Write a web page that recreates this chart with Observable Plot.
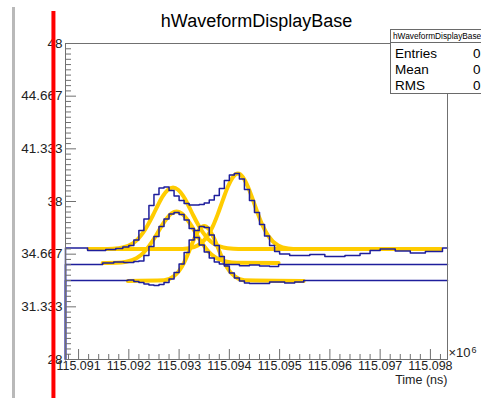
<!DOCTYPE html>
<html>
<head>
<meta charset="utf-8">
<script src="https://cdn.jsdelivr.net/npm/d3@7"></script>
<script src="https://cdn.jsdelivr.net/npm/@observablehq/plot@0.6"></script>
<style>
  html, body { margin: 0; padding: 0; background: #fff; }
  #canvas { position: relative; width: 481px; height: 398px; overflow: hidden;
            font-family: "Liberation Sans", Arial, Helvetica, sans-serif; color: #000; }
  #canvas svg { position: absolute; left: 0; top: 0; }
  #edge { position: absolute; left: 12px; top: 7px; width: 3px; height: 391px; background: #b9b9b9; }
  #stats { position: absolute; left: 390px; top: 29px; width: 110px; height: 65px;
           background: #fff; border: 1px solid #6a6a6a; box-sizing: border-box; }
  #stats .head { position: absolute; left: 2px; top: 1px; font-size: 8.3px; line-height: 10px; white-space: nowrap; }
  #stats .rule { position: absolute; left: 0; right: 0; top: 12px; border-top: 1px solid #6a6a6a; }
  #stats .row { position: absolute; left: 4px; font-size: 13.5px; line-height: 15px; white-space: nowrap; }
  #stats .val { position: absolute; left: 82px; font-size: 13.5px; line-height: 15px; }
</style>
</head>
<body>
<div id="canvas">
  <div id="edge"></div>
</div>
<script>
// Time axis in ns; sample times below are offsets from T0.
const T0 = 115091000;
const xMin = 115090740, xMax = 115098340;
const yMin = 28, yMax = 48;

// Axis ticks
const xTickValues = [115091000, 115092000, 115093000, 115094000, 115095000, 115096000, 115097000, 115098000];
const xTickLabels = ["115.091", "115.092", "115.093", "115.094", "115.095", "115.096", "115.097", "115.098"];
const yTickValues = [28, 31.3333, 34.6667, 38, 41.3333, 44.6667, 48];
const yTickLabels = ["28", "31.333", "34.667", "38", "41.333", "44.667", "48"];

// Waveform A (two pulses): bin start times (ns from T0) and levels
const aStart = [-260, 180, 540, 740, 880,
  1000, 1100, 1200, 1300, 1400, 1500, 1600, 1700, 1800, 1900,
  2000, 2100, 2200, 2300, 2400, 2500, 2600, 2700, 2800, 2900,
  3000, 3100, 3200, 3300, 3400, 3500, 3600, 3700, 3800, 3900,
  4000, 4200, 4600, 4900, 5300, 5600, 5800, 6000, 6300, 6600, 6900, 7240];
const aLevel = [35.05, 34.90, 34.96, 35.03, 35.12,
  35.22, 35.56, 36.16, 36.89, 37.75, 38.44, 38.85, 38.92, 38.70, 38.35,
  38.06, 37.87, 37.78, 37.78, 37.81, 37.91, 38.09, 38.38, 38.82, 39.33,
  39.68, 39.77, 39.42, 38.76, 38.06, 37.30, 36.54, 35.82, 35.22, 34.84,
  34.68, 34.58, 34.65, 34.52, 34.58, 34.71, 34.90, 35.00, 34.87, 34.74, 34.84, 35.05];

// Waveform B
const bStart = [-260, 480, 700, 900, 1100,
  1200, 1300, 1400, 1500, 1600, 1700, 1800, 1900, 2000, 2100,
  2200, 2300, 2400, 2500, 2600, 2700, 2800,
  2900, 3200, 3400, 3600, 3800, 3980];
const bLevel = [34.01, 34.11, 34.17, 34.14, 34.20,
  34.23, 34.58, 35.15, 35.78, 36.42, 36.89, 37.21, 37.30, 37.18, 36.83,
  36.29, 35.72, 35.25, 34.80, 34.42, 34.17, 34.04,
  34.01, 33.94, 33.98, 33.92, 33.89, 34.01];

// Waveform C
const cStart = [-260, 980, 1100,
  1200, 1300, 1400, 1500, 1600, 1700, 1800, 1900, 2000, 2100,
  2200, 2300, 2400, 2500, 2600, 2700, 2800, 2900, 3000, 3100, 3200, 3300,
  3400, 3800, 4100, 4300, 4480];
const cLevel = [33.00, 33.03, 32.94,
  32.87, 32.78, 32.72, 32.68, 32.75, 32.87, 33.09, 33.51, 34.04, 34.77,
  35.56, 36.16, 36.42, 36.35, 35.88, 35.22, 34.52, 33.92, 33.47, 33.16, 32.97, 32.84,
  32.81, 32.91, 32.84, 32.91, 33.00];

// Pulse fits (sampled along each fitted curve)
const fitA1Time = [200, 480, 680, 880, 1080, 1180, 1280, 1380, 1480, 1580, 1680, 1780, 1880,
  1980, 2080, 2180, 2280, 2380, 2480, 2580, 2680, 2880, 3080, 3280, 7200];
const fitA1Value = [34.99, 34.99, 35.01, 35.09, 35.35, 35.62, 36.01, 36.53, 37.13, 37.78, 38.35, 38.74, 38.89,
  38.74, 38.35, 37.78, 37.13, 36.53, 36.01, 35.62, 35.35, 35.09, 35.01, 34.99, 34.99];

const fitA2Time = [200, 1970, 2170, 2370, 2570, 2670, 2770, 2870, 2970, 3070, 3170,
  3270, 3370, 3470, 3570, 3670, 3770, 3970, 4170, 4370, 7200];
const fitA2Value = [34.99, 34.99, 35.03, 35.22, 35.84, 36.42, 37.20, 38.09, 38.93, 39.54, 39.77,
  39.54, 38.93, 38.09, 37.20, 36.42, 35.84, 35.22, 35.03, 34.99, 34.99];

const fitBTime = [480, 750, 950, 1150, 1250, 1350, 1450, 1550, 1650, 1750, 1850, 1950,
  2050, 2150, 2250, 2350, 2450, 2550, 2650, 2750, 2950, 3150, 3980];
const fitBValue = [34.11, 34.12, 34.19, 34.41, 34.63, 34.96, 35.39, 35.90, 36.44, 36.91, 37.25, 37.37,
  37.25, 36.91, 36.44, 35.90, 35.39, 34.96, 34.63, 34.41, 34.19, 34.12, 34.11];

const fitCTime = [980, 1700, 1900, 2000, 2100, 2200, 2300, 2400, 2500,
  2600, 2700, 2800, 2900, 3000, 3100, 3300, 4480];
const fitCValue = [32.97, 33.01, 33.28, 33.61, 34.14, 34.86, 35.63, 36.22, 36.45,
  36.22, 35.63, 34.86, 34.14, 33.61, 33.28, 33.01, 32.97];

// Time marker drawn left of the window
const markerTime = 115090500;

// Histogram outline: rises from the axis floor at the left edge and steps through the bins
// up to the right edge of the frame.
function outline(starts, levels, name) {
  const pts = [{t: xMin, v: yMin, s: name}];
  starts.forEach((s, i) => pts.push({t: Math.max(xMin, T0 + s), v: levels[i], s: name}));
  pts.push({t: xMax, v: levels[levels.length - 1], s: name});
  return pts;
}
function curvePts(times, values, name) {
  return times.map((t, i) => ({t: T0 + t, v: values[i], s: name}));
}

const hists = [
  ...outline(aStart, aLevel, "A"),
  ...outline(bStart, bLevel, "B"),
  ...outline(cStart, cLevel, "C")
];
const fits = [
  ...curvePts(fitA1Time, fitA1Value, "A1"),
  ...curvePts(fitA2Time, fitA2Value, "A2"),
  ...curvePts(fitBTime, fitBValue, "B"),
  ...curvePts(fitCTime, fitCValue, "C")
];

const xMinor = d3.range(115090800, xMax, 200).filter(t => t % 1000 !== 0);
const yMinor = d3.range(0, 60).map(i => yMin + i / 3).filter((_, i) => i % 10 !== 0);

const W = 481, H = 398, mL = 65, mR = 34, mT = 43, mB = 39;
const frameW = W - mL - mR, frameH = H - mT - mB;
const axisColor = "#707070";
const font = "'Liberation Sans', Arial, Helvetica, sans-serif";

const chart = Plot.plot({
  width: W, height: H,
  marginLeft: mL, marginRight: mR, marginTop: mT, marginBottom: mB,
  x: {domain: [xMin, xMax], axis: null},
  y: {domain: [yMin, yMax], axis: null},
  style: {fontFamily: font, background: "transparent", overflow: "visible"},
  marks: [
    Plot.line(fits, {x: "t", y: "v", z: "s", stroke: "#ffcc00", strokeWidth: 4, curve: "monotone-x"}),
    Plot.line(hists, {x: "t", y: "v", z: "s", stroke: "#1e1e9c", strokeWidth: 1.5, curve: "step-after"}),
    Plot.frame({stroke: axisColor}),
    Plot.tickX(xTickValues, {x: d => d, stroke: axisColor, insetTop: frameH - 10}),
    Plot.tickX(xMinor, {x: d => d, stroke: axisColor, insetTop: frameH - 5}),
    Plot.tickY(yTickValues, {y: d => d, stroke: axisColor, insetRight: frameW - 11}),
    Plot.tickY(yMinor, {y: d => d, stroke: axisColor, insetRight: frameW - 6}),
    Plot.text(xTickValues, {x: d => d, text: (d, i) => xTickLabels[i], frameAnchor: "bottom",
      lineAnchor: "top", dy: 2, fontSize: 12.5, fill: "#222"}),
    Plot.text(yTickValues, {y: d => d, text: (d, i) => yTickLabels[i], frameAnchor: "left",
      textAnchor: "end", dx: -3, fontSize: 13.5, fill: "#222"}),
    Plot.text(["Time (ns)"], {frameAnchor: "bottom-right", textAnchor: "end", dy: 24, fontSize: 12.5, fill: "#222"}),
    Plot.text(["\u00d710"], {frameAnchor: "bottom-right", textAnchor: "start", dx: 1, dy: -3, fontSize: 13, fill: "#222"}),
    Plot.text(["6"], {frameAnchor: "bottom-right", textAnchor: "start", dx: 24, dy: -7, fontSize: 9, fill: "#222"}),
    Plot.text(["hWaveformDisplayBase"], {frameAnchor: "top", dy: -29, fontSize: 18, fill: "#000"}),
    Plot.ruleX([markerTime], {x: d => d, stroke: "#ff0000", strokeWidth: 4, insetTop: -32, insetBottom: -40})
  ]
});

const canvas = document.getElementById("canvas");
canvas.appendChild(chart);

// Statistics box
const stats = document.createElement("div");
stats.id = "stats";
stats.innerHTML =
  '<div class="head">hWaveformDisplayBase</div><div class="rule"></div>' +
  '<div class="row" style="top:16px">Entries</div><div class="val" style="top:16px">0</div>' +
  '<div class="row" style="top:32px">Mean</div><div class="val" style="top:32px">0</div>' +
  '<div class="row" style="top:48px">RMS</div><div class="val" style="top:48px">0</div>';
canvas.appendChild(stats);
</script>
</body>
</html>
